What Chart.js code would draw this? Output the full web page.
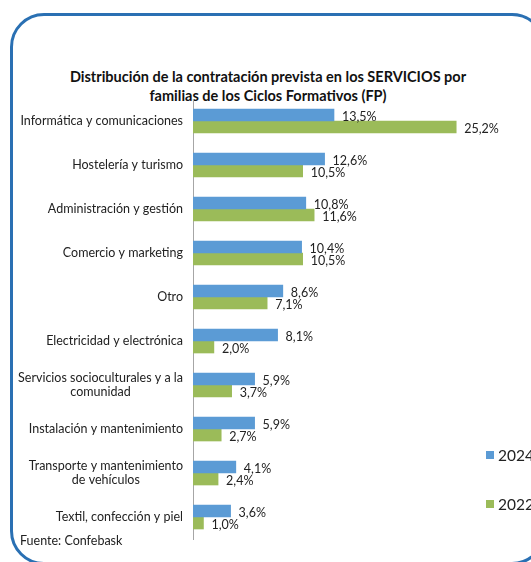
<!DOCTYPE html>
<html>
<head>
<meta charset="utf-8">
<script src="https://cdn.jsdelivr.net/npm/chart.js@4"></script>
<style>
  body { margin:0; background:#fff; width:531px; height:562px; overflow:hidden; position:relative; font-family:Lato, "Open Sans", sans-serif; }
  #frame { position:absolute; left:10px; top:13px; width:530px; height:546px; border:3px solid #2a70b3; border-radius:34px; }
  #title { position:absolute; left:0; width:536px; top:67px; text-align:center; font-weight:bold; font-size:14.5px; line-height:19px; color:#111; }
  #source { position:absolute; left:20px; top:533px; font-size:12.5px; color:#222; }
  #wrap { position:absolute; left:0; top:0; width:531px; height:562px; }
</style>
</head>
<body>
<div id="frame"></div>
<div id="title">Distribución de la contratación prevista en los SERVICIOS por<br>familias de los Ciclos Formativos (FP)</div>
<div id="wrap"><canvas id="chart" width="531" height="562"></canvas></div>
<div id="source">Fuente: Confebask</div>
<script>
// datos
var categories = [
  ["Informática y comunicaciones"],
  ["Hostelería y turismo"],
  ["Administración y gestión"],
  ["Comercio y marketing"],
  ["Otro"],
  ["Electricidad y electrónica"],
  ["Servicios socioculturales y a la", "comunidad"],
  ["Instalación y mantenimiento"],
  ["Transporte y mantenimiento", "de vehículos"],
  ["Textil, confección y piel"]
];
var values2024 = [13.5, 12.6, 10.8, 10.4, 8.6, 8.1, 5.9, 5.9, 4.1, 3.6];
var values2022 = [25.2, 10.5, 11.6, 10.5, 7.1, 2.0, 3.7, 2.7, 2.4, 1.0];
var seriesLabels = ["2024", "2022"];
var seriesColors = ["#5b9bd5", "#9bbb59"];

const labelFont = '12.5px Lato, "Open Sans", sans-serif';

function fmt(v){
  return v.toFixed(1).replace('.', ',') + '%';
}

// etiquetas de categoria, valores y leyenda
const customDraw = {
  id: 'customDraw',
  afterDatasetsDraw(chart){
    const ctx = chart.ctx;
    const yScale = chart.scales.y;
    ctx.save();
    ctx.fillStyle = '#222';
    ctx.font = labelFont;
    ctx.textBaseline = 'middle';
    // nombres de categoria
    categories.forEach(function(lines, i){
      const yc = yScale.getPixelForValue(i);
      const right = chart.chartArea.left - 10;
      let w = 0;
      lines.forEach(function(l){ w = Math.max(w, ctx.measureText(l).width); });
      const cx = right - w / 2;
      const lh = 14;
      ctx.textAlign = 'center';
      lines.forEach(function(l, k){
        ctx.fillText(l, cx, yc + (k - (lines.length - 1) / 2) * lh);
      });
    });
    // valores al final de cada barra
    ctx.textAlign = 'left';
    chart.data.datasets.forEach(function(ds, di){
      const meta = chart.getDatasetMeta(di);
      meta.data.forEach(function(bar, i){
        ctx.fillText(fmt(ds.data[i]), bar.x + 8, bar.y + 1.5);
      });
    });
    // leyenda
    const legendY = [455, 504];
    ctx.font = '15.5px Lato, "Open Sans", sans-serif';
    chart.data.datasets.forEach(function(ds, di){
      ctx.fillStyle = ds.backgroundColor;
      ctx.fillRect(486, legendY[di] - 4, 8, 8);
      ctx.fillStyle = '#222';
      ctx.fillText(ds.label, 498, legendY[di] + 1);
    });
    ctx.restore();
  }
};

new Chart(document.getElementById('chart'), {
  type: 'bar',
  data: {
    labels: categories,
    datasets: [
      { label: seriesLabels[0], data: values2024, backgroundColor: seriesColors[0], barThickness: 12 },
      { label: seriesLabels[1], data: values2022, backgroundColor: seriesColors[1], barThickness: 12 }
    ]
  },
  options: {
    indexAxis: 'y',
    responsive: false,
    animation: false,
    layout: { padding: { left: 193, right: 56, top: 99, bottom: 23 } },
    scales: {
      x: { display: false, min: 0, max: 27 },
      y: {
        display: true,
        ticks: { display: false },
        grid: { display: false, drawTicks: false },
        border: { display: true, color: '#a6a6a6', width: 1 },
        afterFit: function(scale){ scale.width = 0; }
      }
    },
    plugins: {
      legend: { display: false },
      tooltip: { enabled: false }
    }
  },
  plugins: [customDraw]
});
</script>
</body>
</html>
